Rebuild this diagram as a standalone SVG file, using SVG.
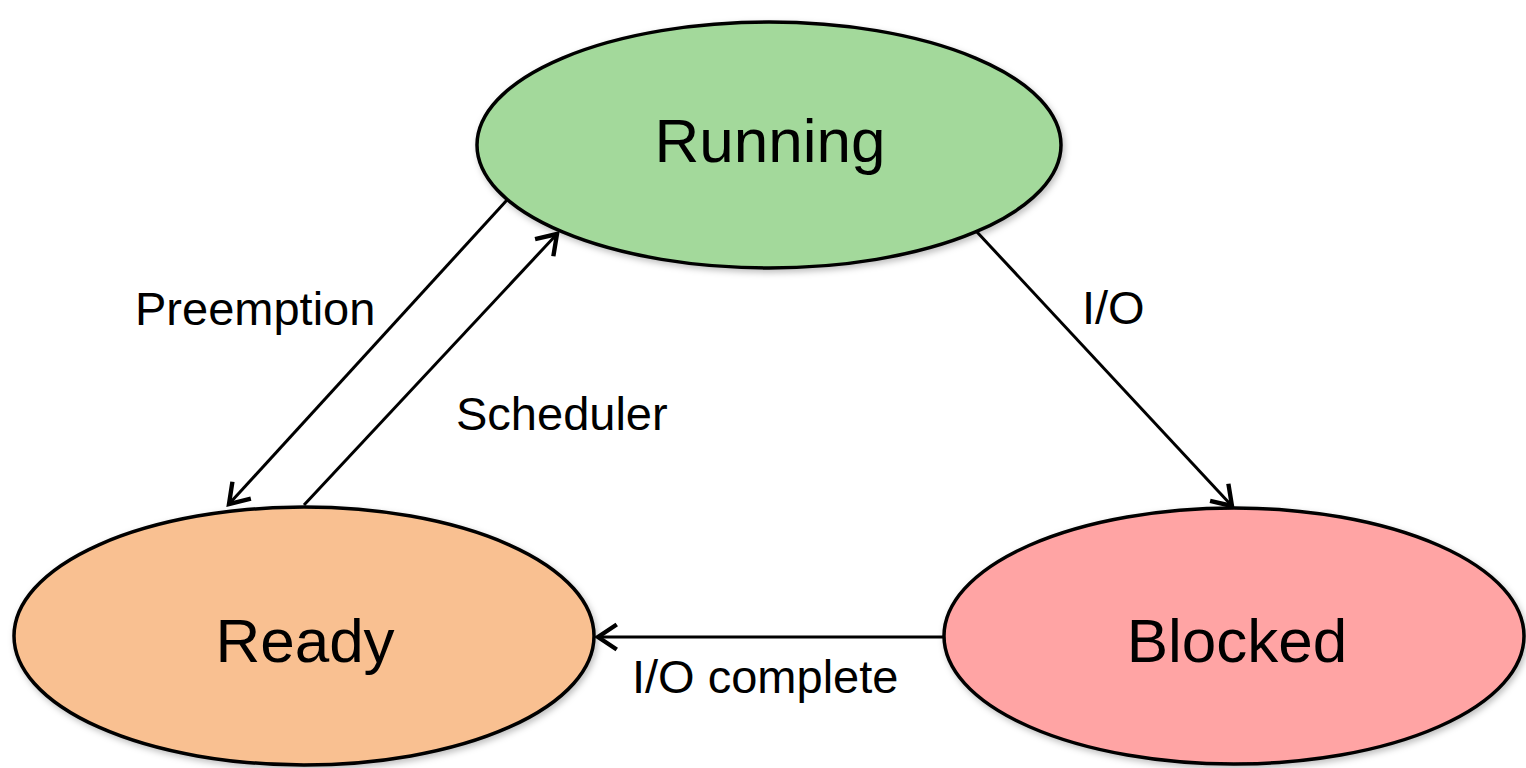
<svg xmlns="http://www.w3.org/2000/svg" width="1526" height="768" viewBox="0 0 1526 768">
<style>
.node{stroke:#000;stroke-width:3.5;}
.big{font-family:"Liberation Sans",Arial,sans-serif;font-size:62px;fill:#000;text-anchor:middle;}
.lbl{font-family:"Liberation Sans",Arial,sans-serif;font-size:47px;fill:#000;}
.edge{stroke:#000;stroke-width:3;fill:none;marker-end:url(#arr);}
</style>
<defs>
<marker id="arr" markerUnits="userSpaceOnUse" markerWidth="30" markerHeight="30" viewBox="-16 -12 20 24" refX="0" refY="0" orient="auto">
<path d="M-15,-10 L0,0 L-15,10" fill="none" stroke="#000" stroke-width="3.5"/>
</marker>
<filter id="sh" x="-10%" y="-10%" width="120%" height="125%">
<feDropShadow dx="2" dy="3" stdDeviation="3" flood-color="#000" flood-opacity="0.25"/>
</filter>
</defs>
<rect width="1526" height="768" fill="#fff"/>
<g id="connectors">
<line class="edge" x1="507" y1="200" x2="229" y2="504"/>
<line class="edge" x1="304" y1="505" x2="557" y2="234"/>
<line class="edge" x1="977" y1="232" x2="1232" y2="506"/>
<line class="edge" x1="944" y1="637" x2="598" y2="637"/>
<text class="lbl" x="135" y="325">Preemption</text>
<text class="lbl" x="456" y="430">Scheduler</text>
<text class="lbl" x="1082" y="324">I/O</text>
<text class="lbl" x="632" y="693">I/O complete</text>
</g>
<g id="running">
<ellipse class="node" cx="769" cy="145" rx="292" ry="123" fill="#A3D99B" filter="url(#sh)"/>
<text class="big" x="770" y="162">Running</text>
</g>
<g id="ready">
<ellipse class="node" cx="304" cy="636" rx="290" ry="129" fill="#F9C091" filter="url(#sh)"/>
<text class="big" x="305" y="662">Ready</text>
</g>
<g id="blocked">
<ellipse class="node" cx="1234" cy="636" rx="290" ry="128" fill="#FFA4A4" filter="url(#sh)"/>
<text class="big" x="1237" y="662">Blocked</text>
</g>
</svg>
